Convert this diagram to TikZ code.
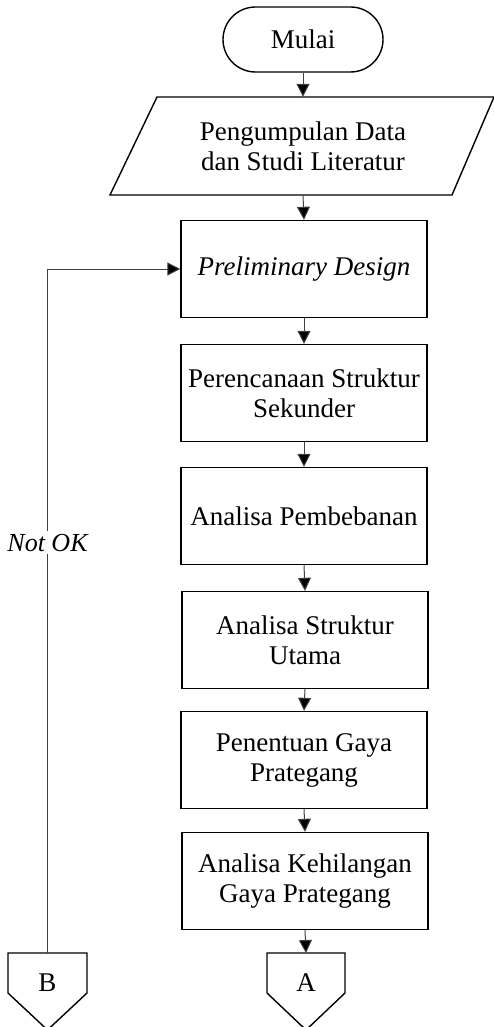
\documentclass[tikz,border=0pt]{standalone}
\usepackage{fontspec}
\setmainfont{Liberation Serif}
\usetikzlibrary{shapes.misc,arrows.meta}
\begin{document}
\begin{tikzpicture}[x=1pt,y=-1pt,
  txt/.style={font=\fontsize{27}{30}\selectfont, align=center},
  box/.style={txt, draw=black, line width=1.4pt, minimum width=246pt, minimum height=97pt, inner sep=0pt},
  term/.style={txt, draw=black, line width=1.4pt, rounded rectangle, minimum width=160pt, minimum height=65pt, inner sep=0pt},
  conn/.style={draw=black!75, line width=1pt, -{Triangle[length=13pt,width=13pt,fill=black]}},
  outl/.style={draw=black, line width=1.4pt, line join=miter}
]
\useasboundingbox (0,0) rectangle (494,1027);
\node[term] (mulai) at (303,39.5) {Mulai};
% parallelogram
\draw[outl] (157,97) -- (494,97) -- (452,195) -- (110,195) -- cycle;
\node[txt, minimum width=250pt, minimum height=98pt, inner sep=0pt] (data) at (303,146) {Pengumpulan Data\\dan Studi Literatur};
\node[box] (b1) at (304,269) {\itshape Preliminary Design};
\node[box] (b2) at (304,393) {Perencanaan Struktur\\Sekunder};
\node[box] (b3) at (304,516) {Analisa Pembebanan};
\node[box] (b4) at (305,640) {Analisa Struktur\\Utama};
\node[box] (b5) at (304,760) {Penentuan Gaya\\Prategang};
\node[box] (b6) at (305,881) {Analisa Kehilangan\\Gaya Prategang};
% off-page connectors
\draw[outl] (267,953) -- (345,953) -- (345,993) -- (306,1030) -- (267,993) -- cycle;
\node[txt, minimum width=60pt, minimum height=30pt, inner sep=0pt] (A) at (306,983) {A};
\draw[outl] (8,953) -- (87,953) -- (87,993) -- (47.5,1030) -- (8,993) -- cycle;
\node[txt, minimum width=60pt, minimum height=30pt, inner sep=0pt] (B) at (47.5,983) {B};
\coordinate (Atop) at (306,953);
\coordinate (Btop) at (47.5,953);
% connectors
\draw[conn] (mulai.south) -- (data.north);
\draw[conn] (data.south) -- (b1.north);
\draw[conn] (b1.south) -- (b2.north);
\draw[conn] (b2.south) -- (b3.north);
\draw[conn] (b3.south) -- (b4.north);
\draw[conn] (b4.south) -- (b5.north);
\draw[conn] (b5.south) -- (b6.north);
\draw[conn] (b6.south) -- (Atop);
\draw[conn] (Btop) |- node[pos=0.3, fill=white, inner sep=3pt, txt, font=\fontsize{26}{30}\selectfont\itshape] (nok) {Not OK} (b1.west);
\end{tikzpicture}
\end{document}
